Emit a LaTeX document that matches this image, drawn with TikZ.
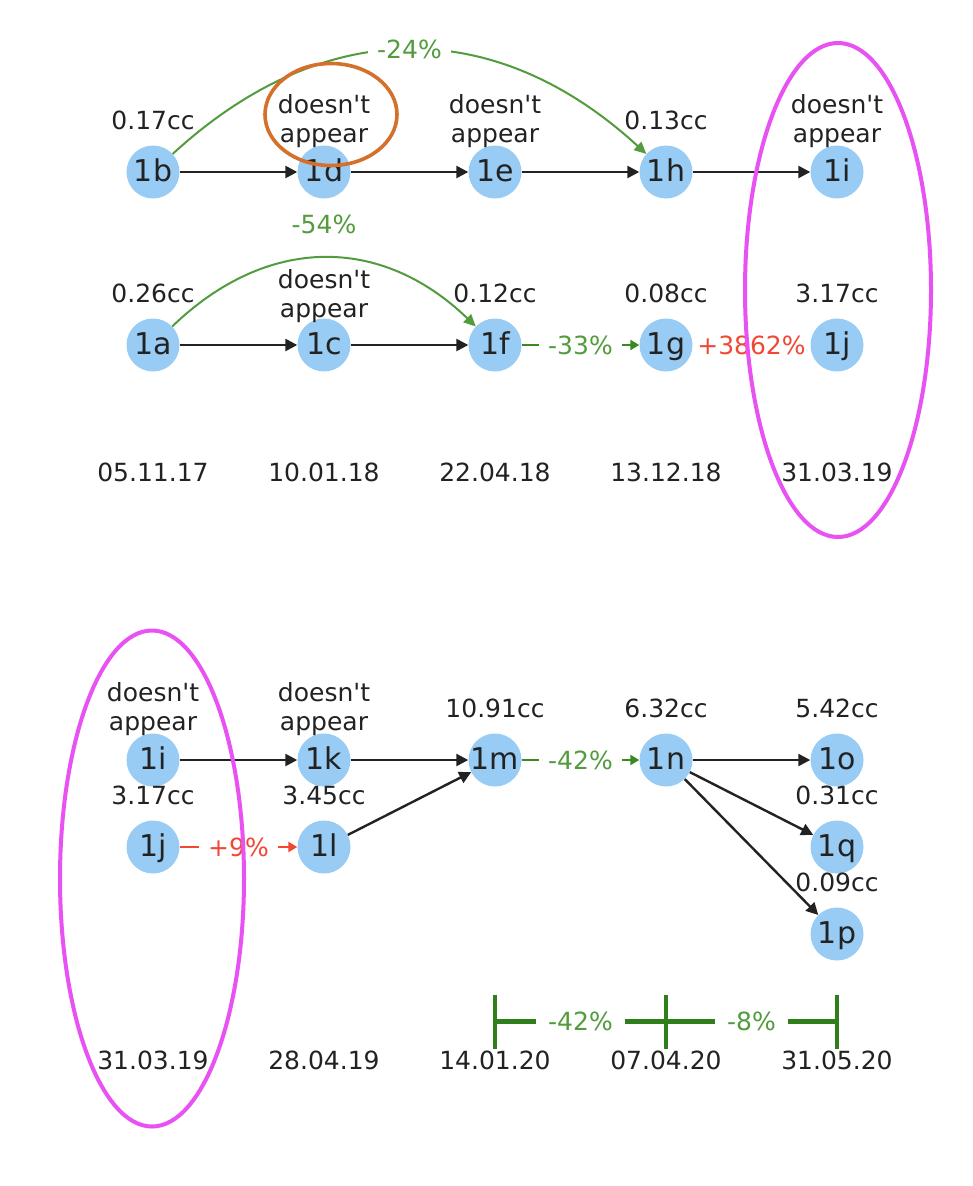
\documentclass[tikz,border=0pt]{standalone}
\usepackage{fontspec}
\setmainfont{DejaVu Sans}[Ligatures=TeXOff]
\usetikzlibrary{arrows.meta}
\pgfdeclarelayer{bg}
\pgfsetlayers{bg,main}
\definecolor{nodeblue}{RGB}{152,204,245}
\definecolor{txt}{RGB}{34,34,34}
\definecolor{greenL}{RGB}{82,156,62}
\definecolor{greenD}{RGB}{58,138,36}
\definecolor{barGreen}{RGB}{48,125,28}
\definecolor{redL}{RGB}{240,72,52}
\definecolor{magentaE}{RGB}{232,82,242}
\definecolor{orangeE}{RGB}{212,112,42}
\begin{document}
\begin{tikzpicture}[x=1pt,y=-1pt,
  vert/.style={circle,fill=nodeblue,minimum size=53pt,inner sep=0pt,text height=19.4pt,text depth=0pt,font=\fontsize{30}{30}\selectfont,text=txt},
  lbl/.style={font=\fontsize{25}{28.5}\selectfont,text=txt,align=center,inner sep=0pt},
  pct/.style={font=\fontsize{25}{28.5}\selectfont,inner sep=0pt},
  elbl/.style={pct,fill=white,inner xsep=9pt,inner ysep=4pt,text height=18.2pt,text depth=0pt},
  blk/.style={draw=txt,line width=2.4pt,-{Triangle[length=12pt,width=12pt]}},
  gedge/.style={draw=greenD,line width=2.4pt,-{Triangle[length=9pt,width=10pt]}},
  redge/.style={draw=redL,line width=2.4pt,-{Triangle[length=9pt,width=10pt]}},
  gcurve/.style={draw=greenL,line width=2pt,-{Triangle[length=12pt,width=11pt]}},
  bar/.style={draw=barGreen,line width=4.6pt},
  barlbl/.style={pct,fill=white,text=greenL,inner xsep=12pt,inner ysep=4pt,text height=18.2pt,text depth=0pt},
  ring/.style={line width=4pt}
]
\useasboundingbox (0,0) rectangle (972,1186);
\begin{pgfonlayer}{bg}
\fill[white] (0,0) rectangle (972,1186);
\end{pgfonlayer}

% ---------- top section, row 1
\node[vert] (b) at (153,172) {1b};
\node[vert] (d) at (324,172) {1d};
\node[vert] (e) at (495,172) {1e};
\node[vert] (h) at (666,172) {1h};
\node[vert] (i1) at (837,172) {1i};
% row 2
\node[vert] (a) at (153,345) {1a};
\node[vert] (c) at (324,345) {1c};
\node[vert] (f) at (495,345) {1f};
\node[vert] (g) at (666,345) {1g};
\node[vert] (j1) at (837,345) {1j};

% labels
\node[lbl] (lb) at (153,120) {0.17cc};
\node[lbl] (ld) at (324,121) {doesn't\\appear};
\node[lbl] (le) at (495,121) {doesn't\\appear};
\node[lbl] (lh) at (666,120) {0.13cc};
\node[lbl] (li1) at (837,121) {doesn't\\appear};
\node[lbl] (la) at (153,293) {0.26cc};
\node[lbl] (lc) at (324,296) {doesn't\\appear};
\node[lbl] (lf) at (495,293) {0.12cc};
\node[lbl] (lg) at (666,293) {0.08cc};
\node[lbl] (lj1) at (837,293) {3.17cc};
\node[lbl] (d1) at (153,472) {05.11.17};
\node[lbl] (d2) at (324,472) {10.01.18};
\node[lbl] (d3) at (495,472) {22.04.18};
\node[lbl] (d4) at (666,472) {13.12.18};
\node[lbl] (d5) at (837,472) {31.03.19};
\node[pct,text=greenL] (p54) at (324,224) {-54\%};

% ---------- bottom section
\node[vert] (i2) at (153,760) {1i};
\node[vert] (k) at (324,760) {1k};
\node[vert] (m) at (495,760) {1m};
\node[vert] (n) at (666,760) {1n};
\node[vert] (o) at (837,760) {1o};
\node[vert] (j2) at (153,847) {1j};
\node[vert] (l) at (324,847) {1l};
\node[vert] (q) at (837,847) {1q};
\node[vert] (p) at (837,934) {1p};

\node[lbl] (li2) at (153,709) {doesn't\\appear};
\node[lbl] (lk) at (324,709) {doesn't\\appear};
\node[lbl] (lm) at (495,708) {10.91cc};
\node[lbl] (ln) at (666,708) {6.32cc};
\node[lbl] (lo) at (837,708) {5.42cc};
\node[lbl] (lj2) at (153,795) {3.17cc};
\node[lbl] (ll) at (324,795) {3.45cc};
\node[lbl] (lq) at (837,795) {0.31cc};
\node[lbl] (lp) at (837,882) {0.09cc};
\node[lbl] (e1) at (153,1060) {31.03.19};
\node[lbl] (e2) at (324,1060) {28.04.19};
\node[lbl] (e3) at (495,1060) {14.01.20};
\node[lbl] (e4) at (666,1060) {07.04.20};
\node[lbl] (e5) at (837,1060) {31.05.20};

% ---------- edges (behind nodes)
\begin{pgfonlayer}{bg}
\draw[blk] (b) -- (d);
\draw[blk] (d) -- (e);
\draw[blk] (e) -- (h);
\draw[blk] (h) -- (i1);
\draw[blk] (a) -- (c);
\draw[blk] (c) -- (f);
\draw[gcurve] (b) .. controls (324,15) and (495,15) .. (h) node[elbl,text=greenL,pos=0.5] (p24) {-24\%};
\draw[gcurve] (a) .. controls (267,235) and (381,235) .. (f);
\draw[gedge] (f) -- node[elbl,text=greenL] (p33) {-33\%} (g);
\draw[redge] (g) -- node[elbl,text=redL] (p3862) {+3862\%} (j1);

\draw[blk] (i2) -- (k);
\draw[blk] (k) -- (m);
\draw[blk] (l) -- (m);
\draw[gedge] (m) -- node[elbl,text=greenL] (p42) {-42\%} (n);
\draw[redge] (j2) -- node[elbl,text=redL] (p9) {+9\%} (l);
\draw[blk] (n) -- (o);
\draw[blk] (n) -- (q);
\draw[blk] (n) -- (p);
\end{pgfonlayer}

% ---------- interval bar
\coordinate (t1) at (495,1021.5);
\coordinate (t2) at (666,1021.5);
\coordinate (t3) at (837,1021.5);
\draw[bar] (t1) -- node[barlbl] (b42) {-42\%} (t2) -- node[barlbl] (b8) {-8\%} (t3);
\foreach \t in {t1,t2,t3} \draw[bar] ([yshift=26.5pt]\t) -- ([yshift=-27.5pt]\t);

% ---------- highlight ellipses
\draw[ring,draw=magentaE] (838,290) ellipse [x radius=93pt, y radius=247pt];
\draw[ring,draw=magentaE] (152,878.5) ellipse [x radius=92pt, y radius=248pt];
\draw[line width=3.6pt,draw=orangeE] (331,114.5) ellipse [x radius=66pt, y radius=51pt];
\end{tikzpicture}
\end{document}
